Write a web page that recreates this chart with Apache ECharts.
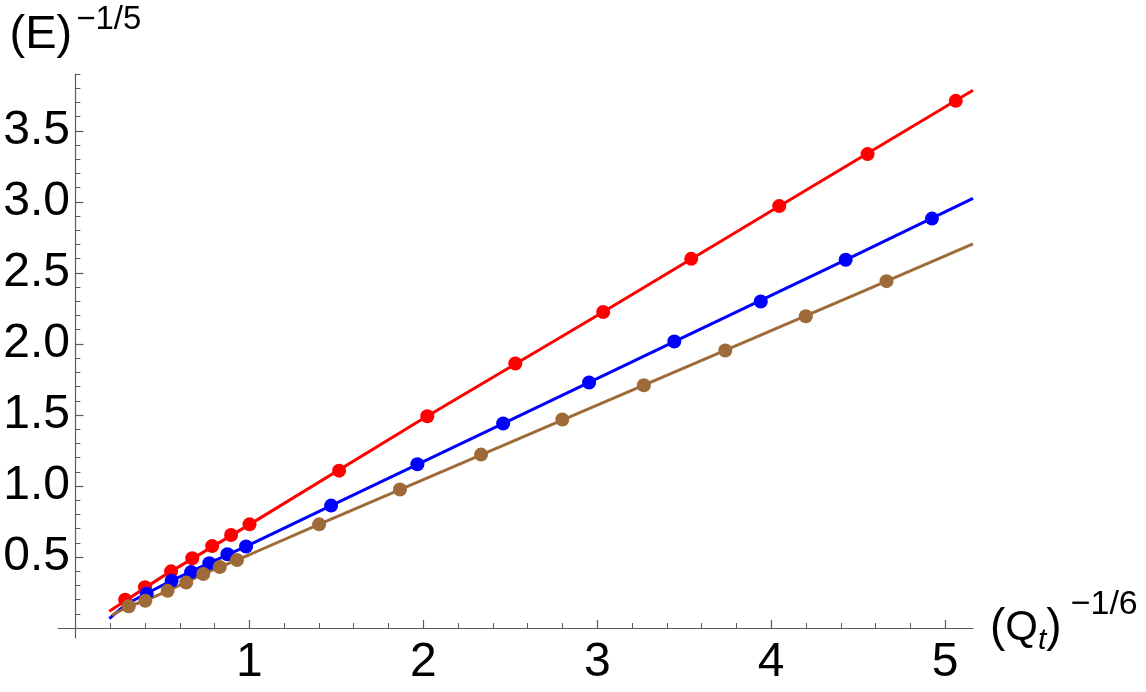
<!DOCTYPE html>
<html>
<head>
<meta charset="utf-8">
<script src="https://cdn.jsdelivr.net/npm/echarts@6/dist/echarts.min.js"></script>
<style>
  html, body { margin: 0; padding: 0; background: #fff; }
  #chart { width: 1146px; height: 692px; }
</style>
</head>
<body>
<div id="chart"></div>
<script>
// measured points (x = Qt^-1/6, y = E^-1/5)
const redX = [0.286, 0.40, 0.55, 0.672, 0.786, 0.895, 1.001, 1.516, 2.023, 2.529, 3.034, 3.540, 4.046, 4.554, 5.061];
const redY = [0.200, 0.287, 0.399, 0.491, 0.577, 0.655, 0.730, 1.108, 1.491, 1.862, 2.225, 2.599, 2.970, 3.336, 3.711];
const blueX = [0.41, 0.553, 0.665, 0.770, 0.874, 0.981, 1.470, 1.966, 2.459, 2.953, 3.443, 3.940, 4.428, 4.924];
const blueY = [0.242, 0.333, 0.394, 0.457, 0.520, 0.574, 0.862, 1.153, 1.440, 1.728, 2.017, 2.299, 2.593, 2.882];
const brownX = [0.307, 0.402, 0.530, 0.637, 0.735, 0.830, 0.929, 1.401, 1.866, 2.332, 2.799, 3.268, 3.736, 4.199, 4.663];
const brownY = [0.153, 0.192, 0.262, 0.320, 0.380, 0.430, 0.479, 0.730, 0.975, 1.221, 1.468, 1.709, 1.954, 2.195, 2.442];

// fitted curves
const redFitX = [0.195, 0.5, 1.0, 2.0, 3.0, 4.0, 5.16];
const redFitY = [0.118, 0.362, 0.728, 1.475, 2.200, 2.936, 3.786];
const blueFitX = [0.195, 0.25, 0.30, 0.40, 0.55, 0.75, 1.0, 1.5, 2.5, 3.5, 4.5, 5.16];
const blueFitY = [0.066, 0.125, 0.172, 0.238, 0.332, 0.446, 0.585, 0.880, 1.464, 2.049, 2.634, 3.024];
const brownFitX = [0.21, 0.30, 0.40, 0.53, 0.75, 1.0, 1.4, 2.5, 3.5, 4.5, 5.16];
const brownFitY = [0.090, 0.150, 0.192, 0.262, 0.388, 0.516, 0.730, 1.307, 1.832, 2.356, 2.704];

// ticks
const xMajorTicks = [1, 2, 3, 4, 5];
const xMinorTicks = [0.2, 0.4, 0.6, 0.8, 1.2, 1.4, 1.6, 1.8, 2.2, 2.4, 2.6, 2.8, 3.2, 3.4, 3.6, 3.8, 4.2, 4.4, 4.6, 4.8];
const yMajorTicks = [0.5, 1.0, 1.5, 2.0, 2.5, 3.0, 3.5];
const yMinorTicks = [0.1, 0.2, 0.3, 0.4, 0.6, 0.7, 0.8, 0.9, 1.1, 1.2, 1.3, 1.4, 1.6, 1.7, 1.8, 1.9,
  2.1, 2.2, 2.3, 2.4, 2.6, 2.7, 2.8, 2.9, 3.1, 3.2, 3.3, 3.4, 3.6, 3.7, 3.8, 3.9];

const RED = '#ff0000', BLUE = '#0000ff', BROWN = '#9e6b38';
const AXIS = '#5a5a5a';
const FONT = 'Liberation Sans';

function pairs(xs, ys) {
  return xs.map((x, i) => [x, ys[i]]);
}

const chart = echarts.init(document.getElementById('chart'));

const xBase = {
  type: 'value', min: -0.1, max: 5.16, position: 'bottom',
  splitLine: { show: false },
  axisLine: { onZero: true, lineStyle: { color: AXIS, width: 1.2 } }
};
const yBase = {
  type: 'value', min: -0.07, max: 3.9, position: 'left',
  splitLine: { show: false },
  axisLine: { onZero: true, lineStyle: { color: AXIS, width: 1.2 } }
};

const option = {
  animation: false,
  backgroundColor: '#fff',
  grid: { left: 58, right: 173, top: 74, bottom: 54, containLabel: false, outerBoundsMode: 'none' },
  xAxis: [
    Object.assign({}, xBase, {
      axisTick: { inside: true, length: 8, customValues: xMajorTicks, lineStyle: { color: AXIS, width: 1.2 } },
      // labels stay at the grid edge, not at the zero line
      axisLabel: { customValues: xMajorTicks, margin: 1, color: '#000', fontFamily: FONT, fontSize: 48,
        formatter: v => String(v) },
      name: '{p|(}{q|Q}{t|t}{p|)}{s|−1/6}',
      nameLocation: 'end',
      nameGap: 17,
      nameTextStyle: {
        fontFamily: FONT, color: '#000',
        rich: {
          p: { fontFamily: FONT, fontSize: 46, lineHeight: 80, color: '#000' },
          q: { fontFamily: FONT, fontSize: 42, lineHeight: 80, color: '#000' },
          t: { fontFamily: FONT, fontSize: 30, fontStyle: 'italic', verticalAlign: 'bottom', padding: [0, 0, 12, 0], color: '#000' },
          s: { fontFamily: FONT, fontSize: 34, lineHeight: 30, verticalAlign: 'top', padding: [0, 0, 0, 9], color: '#000' }
        }
      }
    }),
    Object.assign({}, xBase, {
      axisLine: { show: false, onZero: true },
      axisTick: { inside: true, length: 5, customValues: xMinorTicks, lineStyle: { color: AXIS, width: 1 } },
      axisLabel: { show: false }
    })
  ],
  yAxis: [
    Object.assign({}, yBase, {
      axisTick: { inside: true, length: 8, customValues: yMajorTicks, lineStyle: { color: AXIS, width: 1.2 } },
      axisLabel: { customValues: yMajorTicks, margin: -12, color: '#000', fontFamily: FONT, fontSize: 48,
        formatter: v => v.toFixed(1) },
      name: '{a|(E)}{s|−1/5}',
      nameLocation: 'end',
      nameGap: 7,
      nameTextStyle: {
        fontFamily: FONT, color: '#000',
        rich: {
          a: { fontFamily: FONT, fontSize: 47, lineHeight: 64, color: '#000' },
          s: { fontFamily: FONT, fontSize: 33, lineHeight: 25, verticalAlign: 'top', padding: [0, 0, 0, 4], color: '#000' }
        }
      }
    }),
    Object.assign({}, yBase, {
      axisLine: { show: false, onZero: true },
      axisTick: { inside: true, length: 5, customValues: yMinorTicks, lineStyle: { color: AXIS, width: 1 } },
      axisLabel: { show: false }
    })
  ],
  series: [
    { type: 'line', data: pairs(redFitX, redFitY), showSymbol: false, symbol: 'none',
      lineStyle: { color: RED, width: 3 }, z: 2 },
    { type: 'line', data: pairs(blueFitX, blueFitY), showSymbol: false, symbol: 'none',
      lineStyle: { color: BLUE, width: 3 }, z: 2 },
    { type: 'line', data: pairs(brownFitX, brownFitY), showSymbol: false, symbol: 'none',
      lineStyle: { color: BROWN, width: 3 }, z: 2 },
    { type: 'scatter', data: pairs(redX, redY), symbolSize: 14, itemStyle: { color: RED, opacity: 1 }, z: 3 },
    { type: 'scatter', data: pairs(blueX, blueY), symbolSize: 14, itemStyle: { color: BLUE, opacity: 1 }, z: 4 },
    { type: 'scatter', data: pairs(brownX, brownY), symbolSize: 14, itemStyle: { color: BROWN, opacity: 1 }, z: 5 }
  ]
};

chart.setOption(option);
</script>
</body>
</html>
